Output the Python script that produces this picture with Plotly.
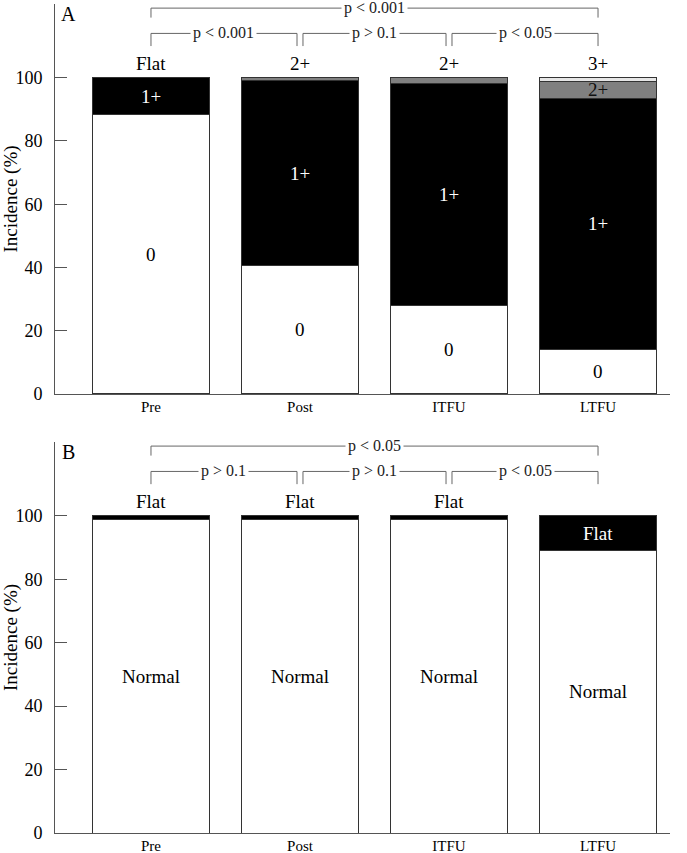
import plotly.graph_objects as go

categories = ["Pre", "Post", "ITFU", "LTFU"]

# Panel A: grades (%)
grade0_A = [88.3, 40.5, 28.0, 14.0]
grade1_A = [11.7, 58.7, 70.1, 79.5]
grade2_A = [0.0, 0.8, 1.9, 5.3]
grade3_A = [0.0, 0.0, 0.0, 1.2]
top_labels_A = ["Flat", "2+", "2+", "3+"]
inside_A = {
    "0": ["0", "0", "0", "0"],
    "1+": ["1+", "1+", "1+", "1+"],
    "2+": ["", "", "", "2+"],
    "3+": ["", "", "", ""],
}
pvals_A = [(0, 1, "p < 0.001"), (1, 2, "p > 0.1"), (2, 3, "p < 0.05"), (0, 3, "p < 0.001")]

# Panel B
normal_B = [98.7, 99.0, 99.0, 89.0]
flat_B = [1.3, 1.0, 1.0, 11.0]
top_labels_B = ["Flat", "Flat", "Flat", ""]
inside_B = {
    "Normal": ["Normal", "Normal", "Normal", "Normal"],
    "Flat": ["", "", "", "Flat"],
}
pvals_B = [(0, 1, "p > 0.1"), (1, 2, "p > 0.1"), (2, 3, "p < 0.05"), (0, 3, "p < 0.05")]

FONT = "Liberation Serif, Times New Roman, serif"
xs = list(range(len(categories)))
fig = go.Figure()

def add_panel(series, names, colors, textcolors, inside, xa, ya):
    annots = []
    base = [0.0] * len(xs)
    for vals, name, col, tcol in zip(series, names, colors, textcolors):
        fig.add_trace(go.Bar(
            x=xs, y=vals, name=name, marker=dict(color=col, line=dict(color="#333", width=1)),
            width=0.78, xaxis=xa, yaxis=ya, showlegend=False, hoverinfo="skip"))
        for i, v in enumerate(vals):
            lab = inside[name][i]
            if lab:
                annots.append(dict(x=xs[i], y=base[i] + v / 2, xref=xa, yref=ya, text=lab,
                                   showarrow=False, font=dict(family=FONT, size=19, color=tcol)))
            base[i] += v
    return annots

annotations = []
annotations += add_panel([grade0_A, grade1_A, grade2_A, grade3_A], ["0", "1+", "2+", "3+"],
                         ["#ffffff", "#000000", "#808080", "#e6e6e6"],
                         ["#000", "#fff", "#111", "#000"], inside_A, "x", "y")
annotations += add_panel([normal_B, flat_B], ["Normal", "Flat"],
                         ["#ffffff", "#000000"], ["#000", "#fff"], inside_B, "x2", "y2")

shapes = []
def add_brackets(pvals, tops, xa, ya):
    for a, b, txt in pvals:
        outer = (b - a) > 1
        yh = 122.0 if outer else 114.0
        yl = 119.0 if outer else 110.0
        x0 = a + (0.02 if (not outer and a > 0) else 0)
        x1 = b - (0.02 if (not outer and b < len(xs) - 1) else 0)
        shapes.append(dict(type="path", xref=xa, yref=ya,
                           path=f"M {x0},{yl} L {x0},{yh} L {x1},{yh} L {x1},{yl}",
                           line=dict(color="#666", width=1)))
        annotations.append(dict(x=(x0 + x1) / 2, y=yh, xref=xa, yref=ya, text=txt, showarrow=False,
                                bgcolor="white", borderpad=2,
                                font=dict(family=FONT, size=16, color="#222")))
    for i, t in enumerate(tops):
        if t:
            annotations.append(dict(x=xs[i], y=100, xref=xa, yref=ya, text=t, showarrow=False,
                                    yanchor="bottom", yshift=2,
                                    font=dict(family=FONT, size=19, color="#000")))

add_brackets(pvals_A, top_labels_A, "x", "y")
add_brackets(pvals_B, top_labels_B, "x2", "y2")

for ya, lab in [("y", "A"), ("y2", "B")]:
    annotations.append(dict(x=0, xref="paper", xshift=13, xanchor="center", y=120, yref=ya, text=lab,
                            showarrow=False, font=dict(family=FONT, size=20, color="#000")))

xaxis_common = dict(range=[-0.644, 3.483], tickvals=xs, ticktext=categories, showgrid=False,
                    zeroline=False, showline=True, linecolor="#555", linewidth=1, ticks="",
                    ticklabelstandoff=-1,
                    automargin=False, tickfont=dict(family=FONT, size=15, color="#000"))
yaxis_common = dict(range=[0, 123.3], tickvals=[0, 20, 40, 60, 80, 100], showgrid=False,
                    zeroline=False, showline=True, linecolor="#555", linewidth=1,
                    ticks="inside", ticklen=12, tickcolor="#555", ticklabelstandoff=8,
                    automargin=False, tickfont=dict(family=FONT, size=18, color="#000"),
                    title=dict(text="Incidence (%)", standoff=4,
                               font=dict(family=FONT, size=19, color="#000")))

fig.update_layout(
    width=687, height=853, barmode="stack", bargap=0.22,
    paper_bgcolor="white", plot_bgcolor="white",
    margin=dict(l=55, r=17, t=4, b=20, autoexpand=False),
    xaxis=dict(domain=[0, 1], anchor="y", **xaxis_common),
    yaxis=dict(domain=[0.5296, 1.0], anchor="x", **yaxis_common),
    xaxis2=dict(domain=[0, 1], anchor="y2", **xaxis_common),
    yaxis2=dict(domain=[0.0, 0.4717], anchor="x2", **yaxis_common),
    annotations=annotations, shapes=shapes,
)

fig.write_html("out.html", config={"displayModeBar": False},
               post_script="document.body.style.margin='0';")
